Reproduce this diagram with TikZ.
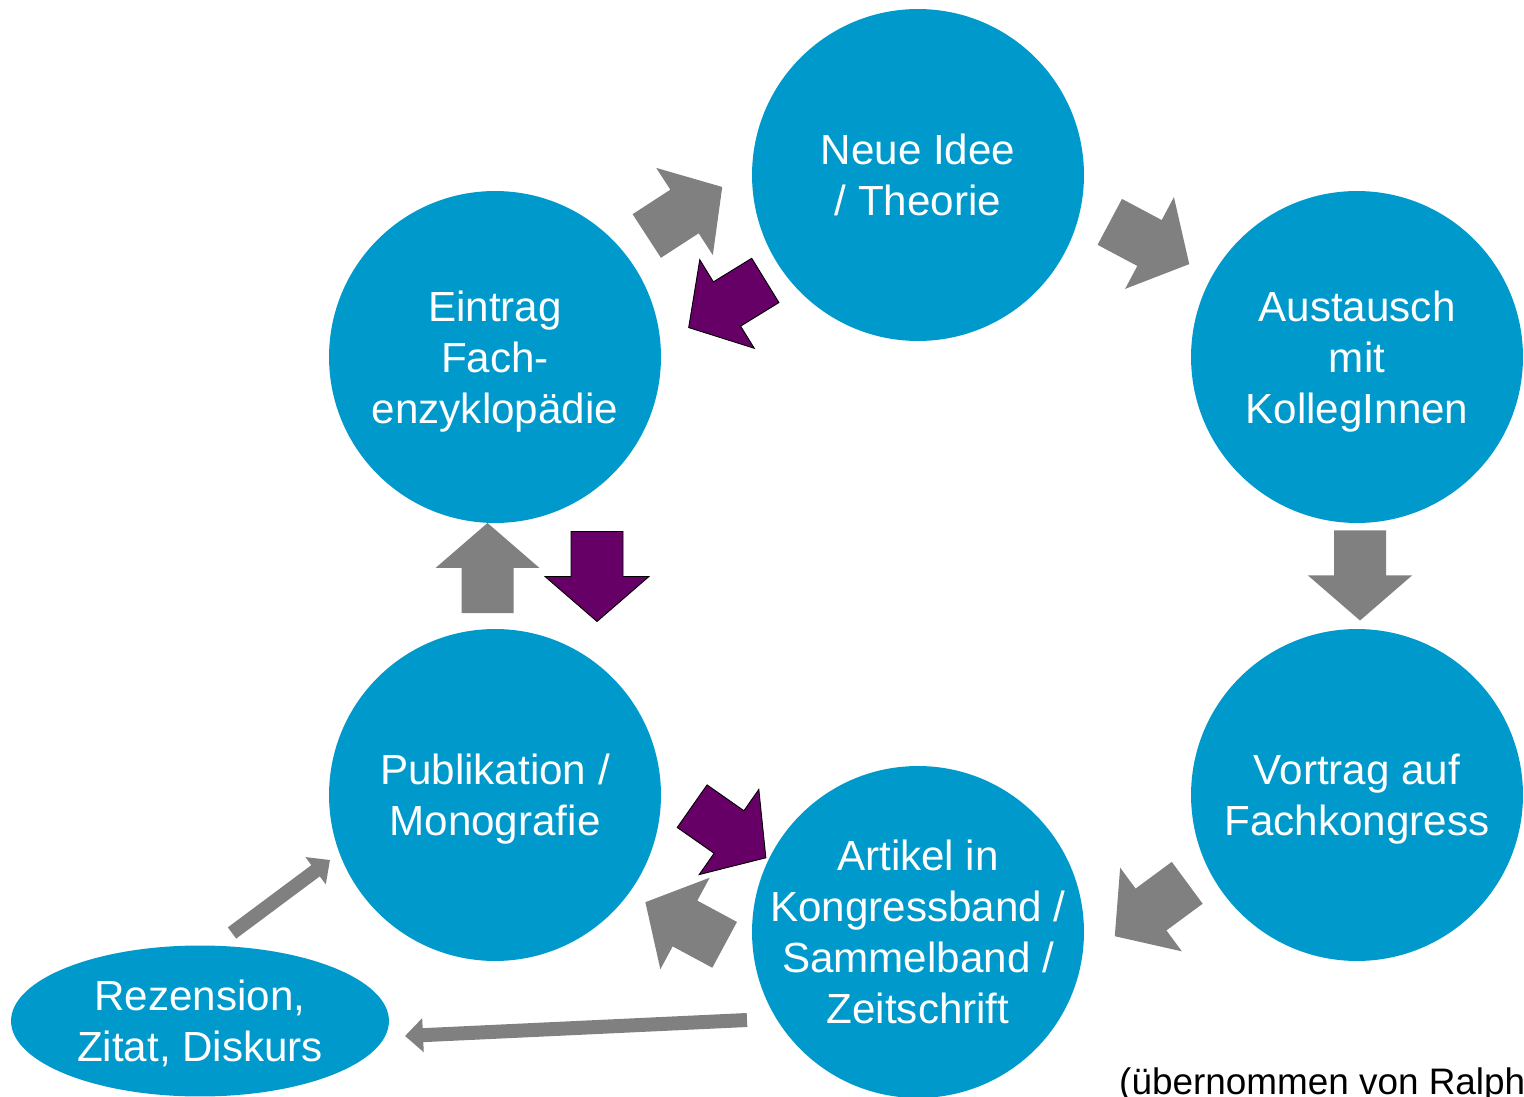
\documentclass[tikz,border=0pt]{standalone}
\usepackage{fontspec}
\setmainfont{Liberation Sans}
\usetikzlibrary{shapes.geometric,arrows.meta}
\definecolor{kreis}{RGB}{0,153,204}
\definecolor{grau}{RGB}{128,128,128}
\definecolor{lila}{RGB}{102,0,102}
\tikzset{
  bubble/.style={circle,fill=kreis,text=white,minimum size=6.64cm,inner sep=-0.5cm,align=center,font=\fontsize{24}{29}\selectfont,text depth=0pt},
  pics/blockarrow/.style={code={\path[pic actions] (-45,-26)--(0,-26)--(0,-52)--(45,0)--(0,52)--(0,26)--(-45,26)--cycle;}},
  thinarrow/.style={draw=grau,line width=0.28cm,-{Triangle[length=0.36cm,width=0.66cm]}}
}
\begin{document}
\begin{tikzpicture}[x=0.02cm,y=-0.02cm]
  \useasboundingbox (0,0) rectangle (1524,1097);
  \node[bubble] (idee) at (918,175) {Neue Idee\\/ Theorie};
  \node[bubble] (eintrag) at (495,357) {Eintrag\\Fach-\\enzyklopädie};
  \node[bubble] (austausch) at (1357,357) {Austausch\\mit\\KollegInnen};
  \node[bubble] (vortrag) at (1357,795) {Vortrag auf\\Fachkongress};
  \node[bubble] (artikel) at (918,932) {Artikel in\\Kongressband /\\Sammelband /\\Zeitschrift};
  \node[bubble] (publ) at (495,795) {Publikation /\\Monografie};
  \node[bubble,ellipse,minimum width=7.56cm,minimum height=3.02cm,inner sep=0pt] (rez) at (200,1021) {Rezension,\\Zitat, Diskurs};
  \foreach \x/\y/\a in {684.5/211.5/33,1149.5/243/-28,1360/575.5/-90,1151/909.5/216.4,685/923.5/151.7,487.5/568/90}
    \pic[rotate=\a,fill=grau] at (\x,\y) {blockarrow};
  \foreach \x/\y/\a in {727/304/211.6,729/832/-35,597/576.5/-90}
    \pic[rotate=\a,fill=lila,draw=black,line width=0.5pt] at (\x,\y) {blockarrow};
  \coordinate (rez-out) at (232,933);
  \coordinate (publ-in) at (330,860);
  \coordinate (artikel-out) at (747,1020);
  \coordinate (rez-in) at (405,1036);
  \draw[thinarrow] (rez-out) -- (publ-in);
  \draw[thinarrow] (artikel-out) -- (rez-in);
  \node[anchor=base west,font=\fontsize{21}{25}\selectfont] (quelle) at (1113,1094) {(übernommen von Ralph};
\end{tikzpicture}
\end{document}
